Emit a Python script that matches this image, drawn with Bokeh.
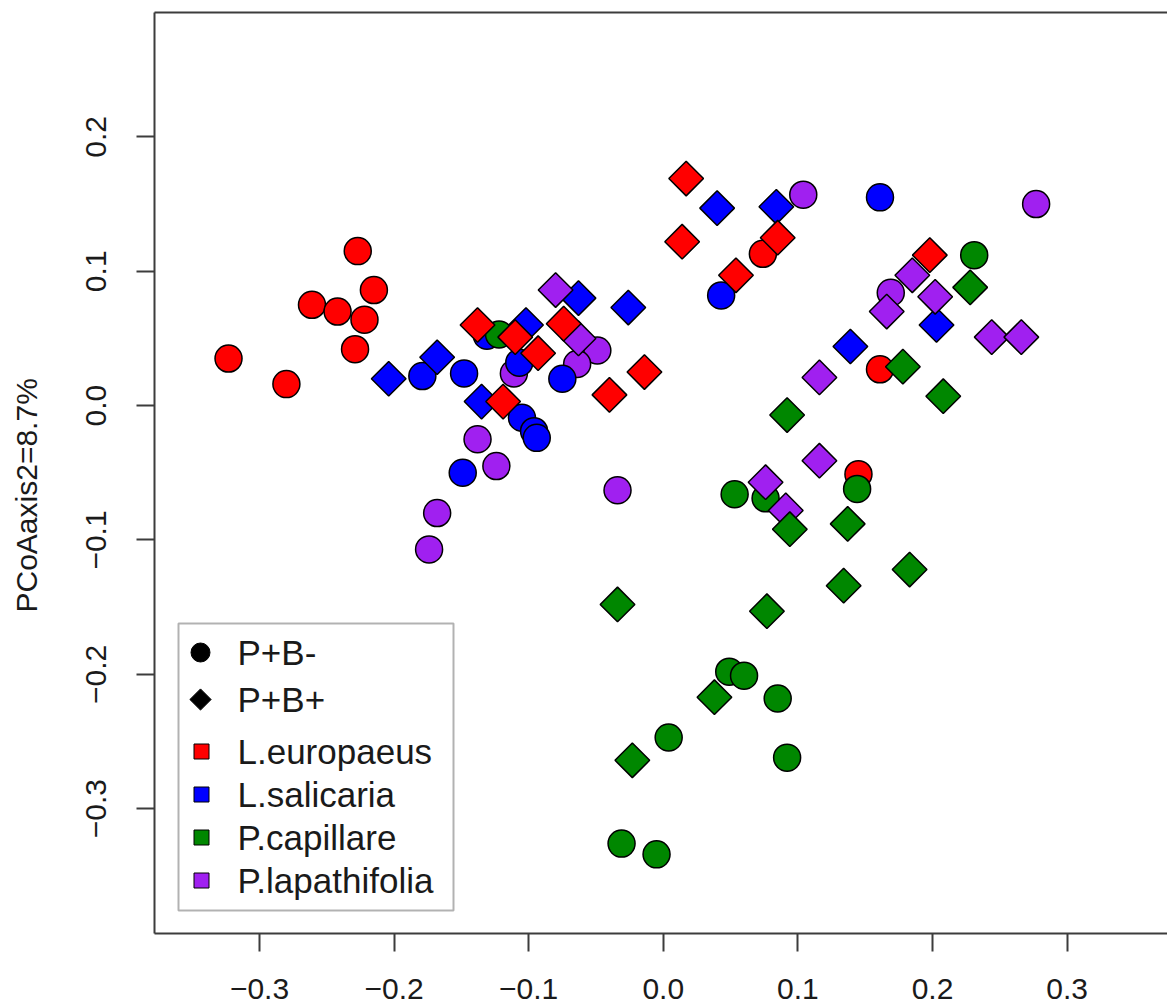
import numpy as np
from bokeh.plotting import figure
from bokeh.models import FixedTicker, Range1d, LinearAxis, Title, BoxAnnotation
from bokeh.embed import file_html
from bokeh.resources import INLINE
from bokeh.core.properties import value

# ---- PCoA scores (axis 1, axis 2) per species and treatment ----
species = ["L.europaeus", "L.salicaria", "P.capillare", "P.lapathifolia"]
colors = ["#FF0000", "#0000FF", "#008700", "#A020F0"]
treatments = ["P+B-", "P+B+"]

# P+B- (circles)
eur_neg_x = [-0.323, -0.280, -0.261, -0.242, -0.229, -0.227, -0.222, -0.215, 0.074, 0.161, 0.145]
eur_neg_y = [0.035, 0.016, 0.075, 0.070, 0.042, 0.115, 0.064, 0.086, 0.113, 0.027, -0.051]
sal_neg_x = [-0.179, -0.148, -0.131, -0.107, -0.105, -0.096, -0.094, -0.149, -0.075, 0.043, 0.161]
sal_neg_y = [0.022, 0.024, 0.052, 0.032, -0.009, -0.019, -0.024, -0.050, 0.020, 0.082, 0.155]
cap_neg_x = [-0.122, 0.231, 0.144, 0.053, 0.076, 0.049, 0.060, 0.085, 0.004, 0.092, -0.031, -0.005]
cap_neg_y = [0.053, 0.112, -0.062, -0.066, -0.069, -0.198, -0.201, -0.218, -0.247, -0.262, -0.326, -0.334]
lap_neg_x = [-0.111, -0.138, -0.124, -0.168, -0.174, -0.049, -0.064, -0.034, 0.104, 0.277, 0.169]
lap_neg_y = [0.024, -0.025, -0.045, -0.080, -0.107, 0.041, 0.031, -0.063, 0.157, 0.150, 0.084]

# P+B+ (diamonds)
eur_pos_x = [-0.138, -0.110, -0.093, -0.119, -0.074, -0.014, -0.040, 0.014, 0.017, 0.085, 0.054, 0.198]
eur_pos_y = [0.060, 0.051, 0.039, 0.003, 0.061, 0.025, 0.008, 0.122, 0.169, 0.125, 0.097, 0.112]
sal_pos_x = [-0.204, -0.168, -0.102, -0.135, -0.063, -0.026, 0.040, 0.084, 0.203, 0.139]
sal_pos_y = [0.020, 0.036, 0.060, 0.003, 0.080, 0.073, 0.147, 0.148, 0.060, 0.044]
cap_pos_x = [0.228, 0.178, 0.208, 0.092, 0.094, 0.137, 0.183, 0.134, -0.034, 0.077, 0.038, -0.023]
cap_pos_y = [0.088, 0.029, 0.007, -0.007, -0.092, -0.088, -0.122, -0.134, -0.148, -0.153, -0.217, -0.264]
lap_pos_x = [-0.080, -0.063, 0.185, 0.202, 0.166, 0.244, 0.266, 0.116, 0.116, 0.076, 0.091]
lap_pos_y = [0.086, 0.050, 0.097, 0.081, 0.070, 0.051, 0.051, 0.021, -0.041, -0.057, -0.078]

x_ticks = [-0.3, -0.2, -0.1, 0.0, 0.1, 0.2, 0.3]
y_ticks = [-0.3, -0.2, -0.1, 0.0, 0.1, 0.2]
y_label = "PCoAaxis2=8.7%"

# ---- layout ----
W, H = 1167, 1007
FL, FR, FT, FB = 154, 1167, 12, 933          # frame edges in canvas pixels
X0, X1 = -0.378, 0.3746
Y0, Y1 = -0.3929, 0.2926
FONT = "Liberation Sans"
INK = "#3c3c3c"
TXT = "#1a1a1a"


def sx(px):
    return X0 + (px - FL) * (X1 - X0) / (FR - FL)


def sy(py):
    return Y1 - (py - FT) * (Y1 - Y0) / (FB - FT)


p = figure(width=W, height=H, x_range=Range1d(X0, X1), y_range=Range1d(Y0, Y1),
           output_backend="svg", toolbar_location=None,
           min_border_left=FL, min_border_right=W - FR,
           min_border_top=FT, min_border_bottom=H - FB)
p.background_fill_color = "white"
p.border_fill_color = "white"
p.outline_line_color = None
p.xgrid.visible = False
p.ygrid.visible = False


def minus(v):
    return f"{v:.1f}".replace("-", "\u2212")


for ax, ticks in ((p.xaxis[0], x_ticks), (p.yaxis[0], y_ticks)):
    ax.ticker = FixedTicker(ticks=ticks)
    ax.major_label_overrides = {t: minus(t) for t in ticks}
    ax.axis_line_color = INK
    ax.axis_line_width = 2
    ax.major_tick_line_color = INK
    ax.major_tick_line_width = 2
    ax.major_tick_out = 18
    ax.major_tick_in = 0
    ax.minor_tick_line_color = None
    ax.major_label_text_font = FONT
    ax.major_label_text_font_size = "30px"
    ax.major_label_text_color = TXT

p.xaxis.major_label_standoff = 27
p.yaxis.major_label_standoff = 30
p.yaxis.major_label_orientation = "vertical"

# top edge of the box
top = LinearAxis(ticker=FixedTicker(ticks=[]), axis_line_color=INK, axis_line_width=2,
                 major_tick_line_color=None, minor_tick_line_color=None,
                 major_label_text_font_size="0px")
p.add_layout(top, "above")

# blank strip between the y tick labels and the y-axis title
p.add_layout(Title(text=" ", text_font_size="1px", standoff=37), "left")

# y-axis title
p.add_layout(Title(text=y_label, align="left", offset=321, vertical_align="middle",
                   standoff=0, text_font=FONT, text_font_size="30px",
                   text_font_style="normal", text_color=TXT), "left")

# ---- points: circles first, then diamonds ----
neg = {
    "L.europaeus": (eur_neg_x, eur_neg_y),
    "L.salicaria": (sal_neg_x, sal_neg_y),
    "P.capillare": (cap_neg_x, cap_neg_y),
    "P.lapathifolia": (lap_neg_x, lap_neg_y),
}
pos = {
    "L.europaeus": (eur_pos_x, eur_pos_y),
    "L.salicaria": (sal_pos_x, sal_pos_y),
    "P.capillare": (cap_pos_x, cap_pos_y),
    "P.lapathifolia": (lap_pos_x, lap_pos_y),
}
col = dict(zip(species, colors))

for sp in ["L.europaeus", "P.lapathifolia", "L.salicaria", "P.capillare"]:
    xs, ys = neg[sp]
    p.scatter(xs, ys, marker="circle", size=27, fill_color=col[sp],
              line_color="black", line_width=1.5)

for sp in ["L.salicaria", "P.lapathifolia", "P.capillare", "L.europaeus"]:
    xs, ys = pos[sp]
    p.scatter(xs, ys, marker="square", angle=np.pi / 4, size=24.5, fill_color=col[sp],
              line_color="black", line_width=1.5)

# ---- legend ----
p.add_layout(BoxAnnotation(left=sx(178), right=sx(453), top=sy(623), bottom=sy(910),
                           fill_alpha=0, line_color="black", line_width=2))

rows = [652, 699, 751, 794, 837, 880]
gx, tx = 200, 237
p.scatter([sx(gx)], [sy(rows[0])], marker="circle", size=19, fill_color="black",
          line_color="black", line_width=1)
p.scatter([sx(gx)], [sy(rows[1])], marker="square", angle=np.pi / 4, size=15,
          fill_color="black", line_color="black", line_width=1)
p.scatter([sx(gx + 1)] * 4, [sy(r) for r in rows[2:]], marker="square", size=15,
          fill_color=colors, line_color="black", line_width=1)

labels = treatments + species
p.text([sx(tx)] * len(labels), [sy(r) for r in rows], text=labels,
       text_font=value(FONT), text_font_size="35px", text_color=TXT,
       text_align="left", text_baseline="middle")

open("out.html", "w").write(file_html(p, INLINE))
